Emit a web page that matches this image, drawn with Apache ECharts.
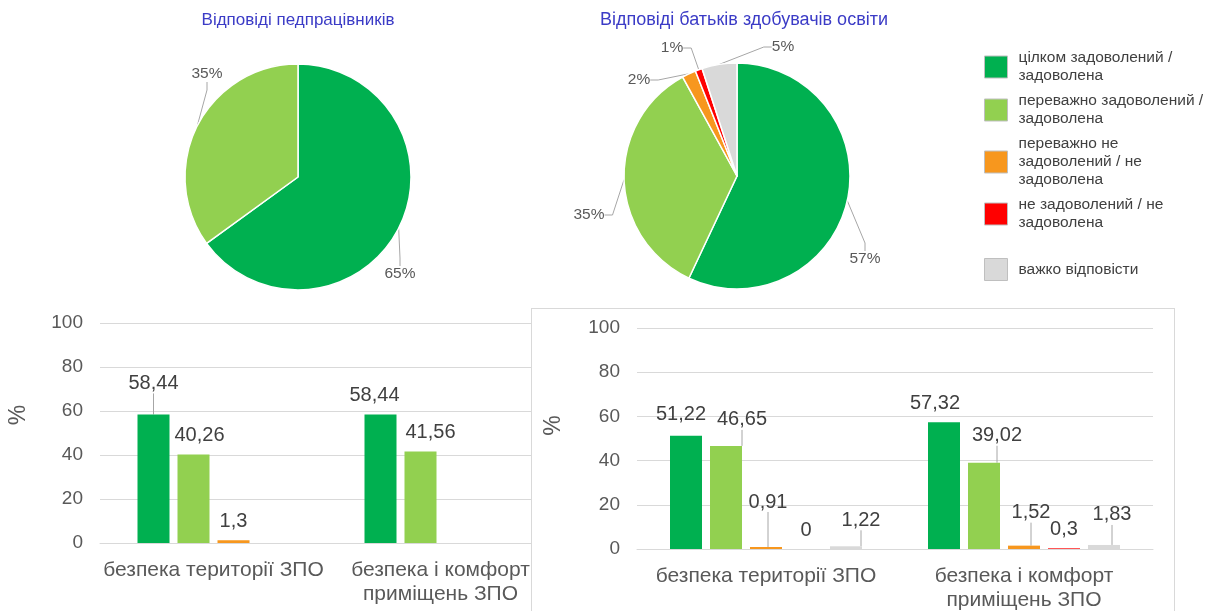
<!DOCTYPE html>
<html>
<head>
<meta charset="utf-8">
<script src="https://cdn.jsdelivr.net/npm/echarts@6/dist/echarts.min.js"></script>
<style>
  html, body { margin: 0; padding: 0; background: #fff; width: 1206px; height: 611px; overflow: hidden; }
  #main { position: absolute; left: 0; top: 0; width: 1206px; height: 611px; }
  #parents { position: absolute; left: 531px; top: 308px; width: 644px; height: 320px;
             box-sizing: border-box; border: 1px solid #d9d9d9; background: #fff; }
</style>
</head>
<body>
<div id="main"></div>
<div id="parents"></div>
<script>
// answer categories (legend / pie slices / bar series)
var categories = [
  "цілком задоволений / задоволена",
  "переважно задоволений / задоволена",
  "переважно не задоволений / не задоволена",
  "не задоволений / не задоволена",
  "важко відповісти"
];
var legendText = [
  "цілком задоволений /\nзадоволена",
  "переважно задоволений /\nзадоволена",
  "переважно не\nзадоволений / не\nзадоволена",
  "не задоволений / не\nзадоволена",
  "важко відповісти"
];
var colors = ["#00b050", "#92d050", "#f7971e", "#ff0000", "#d9d9d9"];

// pies, %
var staffPie = [65, 35];
var parentsPie = [57, 35, 2, 1, 5];

// bars
var aspects = ["безпека території ЗПО", "безпека і комфорт\nприміщень ЗПО"];
var staffFull = [58.44, 58.44];
var staffMostly = [40.26, 41.56];
var staffMostlyNot = [1.3, null];
var staffNot = [null, null];

var parentsFull = [51.22, 57.32];
var parentsMostly = [46.65, 39.02];
var parentsMostlyNot = [0.91, 1.52];
var parentsNot = [0, 0.3];
var parentsHard = [1.22, 1.83];

var FONT = "Liberation Sans";
var TXT = "#595959";

// label placements (offsets from pie centre / nudges from default bar label spot)
var staffCenter = [298, 177];
var parentsCenter = [737, 176];
var staffLabelOff = [[102, 97], [-91, -103]];
var parentsLabelOff = [[128, 83], [-148, 39], [-98, -96], [-65, -128], [46, -129]];

var staffNudge = {
  "0-0": [0, -12, true], "1-0": [6, 0], "0-1": [-6, 0], "1-1": [10, 0]
};
var parentsNudge = {
  "0-0": [-5, -2], "1-0": [16, -7, true], "2-0": [2, -26, true], "4-0": [15, -7, true],
  "0-1": [-9, 0], "1-1": [13, -8, true], "2-1": [7, -14, true], "4-1": [8, -11, true]
};

function fmt(v) {
  return String(v).replace(".", ",");
}

function pieSeries(values, center, offs) {
  return {
    type: "pie",
    center: center,
    radius: 113,
    startAngle: 90,
    clockwise: true,
    avoidLabelOverlap: false,
    itemStyle: { borderColor: "#fff", borderWidth: 1.5 },
    label: { formatter: "{c}%", color: TXT, fontSize: 15.5, fontFamily: FONT },
    labelLine: { show: true, length: 8, length2: 8, lineStyle: { color: "#a6a6a6", width: 1 } },
    labelLayout: function (p) {
      var o = offs[p.dataIndex];
      return { x: center[0] + o[0], y: center[1] + o[1], align: "center", verticalAlign: "middle" };
    },
    data: values.map(function (v, i) {
      return { name: categories[i], value: v, itemStyle: { color: colors[i] } };
    })
  };
}

function barSeries(lists, nudge) {
  return lists.map(function (vals, s) {
    return {
      type: "bar",
      name: categories[s],
      barWidth: 32,
      barGap: "25%",
      itemStyle: { color: colors[s] },
      label: {
        show: true, position: "top", distance: 9,
        fontSize: 20, fontFamily: FONT, color: "#404040",
        formatter: function (p) { return fmt(p.value); }
      },
      labelLayout: function (p) {
        var n = nudge[p.seriesIndex - (lists.offset || 0) + "-" + p.dataIndex];
        if (!n) return {};
        var r = p.labelRect;
        return { x: r.x + r.width / 2 + n[0], y: r.y + r.height / 2 + n[1], align: "center", verticalAlign: "middle" };
      },
      data: vals.map(function (v, i) {
        var n = nudge[s + "-" + i];
        return { value: v, labelLine: { show: !!(n && n[2]), lineStyle: { color: "#a6a6a6", width: 1 } } };
      })
    };
  });
}

function axes(nameGap, nameLift) {
  return {
    x: {
      type: "category", data: aspects,
      axisLine: { lineStyle: { color: "#d9d9d9" } },
      axisTick: { show: false },
      axisLabel: { interval: 0, fontSize: 21, fontFamily: FONT, color: TXT, margin: 15, lineHeight: 24 }
    },
    y: {
      type: "value", min: 0, max: 100, interval: 20,
      axisLine: { show: false }, axisTick: { show: false },
      axisLabel: { fontSize: 19, fontFamily: FONT, color: TXT, margin: 17 },
      splitLine: { lineStyle: { color: "#d9d9d9" } },
      name: "%", nameLocation: "middle", nameGap: nameGap,
      nameTextStyle: { fontSize: 23, fontFamily: FONT, color: TXT, padding: [0, 0, 0, nameLift * 2] }
    }
  };
}

(function () {
  var myChart = echarts.init(document.getElementById("main"));
  var ax = axes(70, 18);
  var staffLists = [staffFull, staffMostly, staffMostlyNot, staffNot];
  staffLists.offset = 2;
  var legendBase = {
    orient: "vertical", left: 979, icon: "rect", itemWidth: 23, itemHeight: 22, itemGap: 7,
    selectedMode: false,
    itemStyle: { borderColor: "#bfbfbf", borderWidth: 1 },
    textStyle: { fontSize: 15.5, lineHeight: 18, fontFamily: FONT, color: "#404040", padding: [0, 0, 0, 6] },
    formatter: function (name) { return legendText[categories.indexOf(name)]; }
  };
  var option = {
    animation: false,
    graphic: [
      { type: "text", x: 298, y: 20, style: { text: "Відповіді педпрацівників", align: "center", verticalAlign: "middle", fill: "#3b3bc6", fontSize: 17, fontFamily: FONT } },
      { type: "text", x: 744, y: 20, style: { text: "Відповіді батьків здобувачів освіти", align: "center", verticalAlign: "middle", fill: "#3b3bc6", fontSize: 18, fontFamily: FONT } }
    ],
    legend: [
      Object.assign({}, legendBase, { top: 44, data: categories.slice(0, 4) }),
      Object.assign({}, legendBase, { top: 253, data: categories.slice(4) })
    ],
    grid: { left: 100, top: 323, width: 454, height: 220 },
    xAxis: ax.x,
    yAxis: ax.y,
    series: [
      pieSeries(staffPie, staffCenter, staffLabelOff),
      pieSeries(parentsPie, parentsCenter, parentsLabelOff)
    ].concat(barSeries(staffLists, staffNudge))
  };
  myChart.setOption(option);
  window.addEventListener("resize", function () { myChart.resize(); });
})();

(function () {
  var myChart = echarts.init(document.getElementById("parents"));
  var ax = axes(72, 13);
  var lists = [parentsFull, parentsMostly, parentsMostlyNot, parentsNot, parentsHard];
  lists.offset = 0;
  var option = {
    animation: false,
    grid: { left: 105, top: 19, width: 516, height: 221 },
    xAxis: ax.x,
    yAxis: ax.y,
    series: barSeries(lists, parentsNudge)
  };
  myChart.setOption(option);
  window.addEventListener("resize", function () { myChart.resize(); });
})();
</script>
</body>
</html>
